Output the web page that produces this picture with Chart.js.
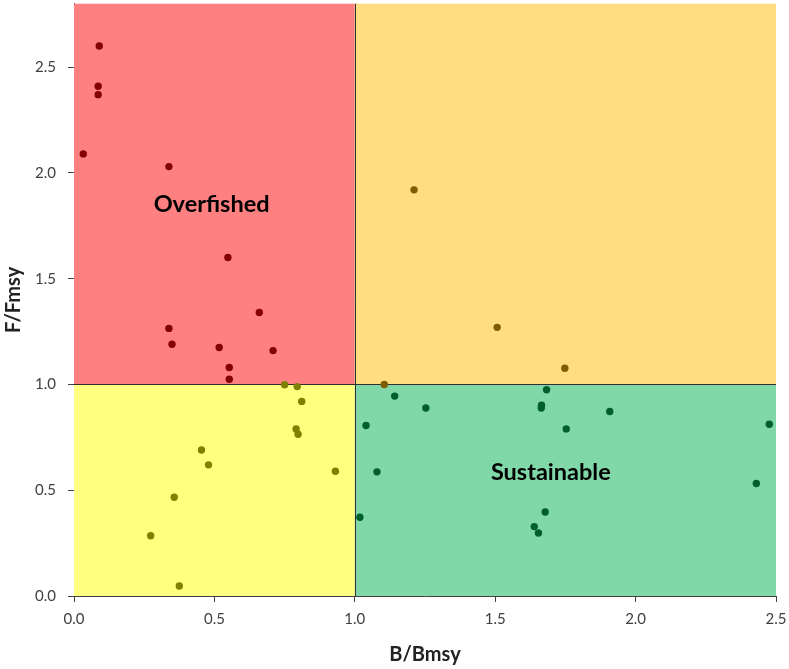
<!DOCTYPE html>
<html>
<head>
<meta charset="utf-8">
<script src="https://cdn.jsdelivr.net/npm/chart.js@4"></script>
<style>
  body { margin: 0; background: #fff; }
  canvas { display: block; }
</style>
</head>
<body>
<canvas id="kobe" width="789" height="669"></canvas>
<script>
// Stock status: biomass ratio (x) and fishing ratio (y)
const bRatio = [0.09, 0.086, 0.086, 0.033, 0.338, 0.548, 0.66, 0.338, 0.349, 0.517, 0.709, 0.553, 0.553,
    0.75, 0.795, 0.811, 0.791, 0.798, 0.454, 0.479, 0.931, 0.357, 0.273, 0.375,
    1.211, 1.507, 1.748, 1.105,
    1.142, 1.683, 1.253, 1.665, 1.664, 1.908, 1.04, 1.753, 2.476, 1.079, 2.43, 1.018, 1.678, 1.639, 1.654];
const fRatio = [2.6, 2.41, 2.37, 2.09, 2.03, 1.6, 1.34, 1.265, 1.19, 1.175, 1.16, 1.08, 1.025,
    0.999, 0.99, 0.92, 0.79, 0.765, 0.69, 0.62, 0.59, 0.467, 0.285, 0.047,
    1.92, 1.27, 1.077, 1.0,
    0.945, 0.975, 0.889, 0.902, 0.889, 0.872, 0.806, 0.79, 0.812, 0.587, 0.532, 0.372, 0.397, 0.328, 0.298];
const xTicks = [0, 0.5, 1, 1.5, 2, 2.5];
const yTicks = [0, 0.5, 1, 1.5, 2, 2.5];

const points = bRatio.map((b, i) => ({ x: b, y: fRatio[i] }));

function dotColor(p) {
    if (p.x < 1 && p.y >= 1) return '#850000';
    if (p.x < 1) return '#7f7f00';
    if (p.y >= 1) return '#7f5c00';
    return '#005f2e';
}

// quadrant fills, divider lines and zone labels
const quadrants = {
    id: 'quadrants',
    beforeDatasetsDraw(chart) {
        const { ctx, chartArea: a, scales: { x, y } } = chart;
        const mx = x.getPixelForValue(1), my = y.getPixelForValue(1);
        ctx.save();
        ctx.fillStyle = '#ff8080'; ctx.fillRect(a.left, a.top, mx - a.left, my - a.top);
        ctx.fillStyle = '#ffdd80'; ctx.fillRect(mx, a.top, a.right - mx, my - a.top);
        ctx.fillStyle = '#ffff80'; ctx.fillRect(a.left, my, mx - a.left, a.bottom - my);
        ctx.fillStyle = '#80d7a7'; ctx.fillRect(mx, my, a.right - mx, a.bottom - my);
        ctx.strokeStyle = '#303030';
        ctx.lineWidth = 1;
        ctx.beginPath();
        ctx.moveTo(Math.round(mx) + 0.5, a.top); ctx.lineTo(Math.round(mx) + 0.5, a.bottom);
        ctx.moveTo(a.left, Math.round(my) + 0.5); ctx.lineTo(a.right, Math.round(my) + 0.5);
        ctx.stroke();
        ctx.fillStyle = '#000';
        ctx.font = 'bold 23.5px Lato';
        ctx.textAlign = 'center';
        ctx.textBaseline = 'middle';
        ctx.fillText('Overfished', x.getPixelForValue(0.49), y.getPixelForValue(1.853));
        ctx.fillText('Sustainable', x.getPixelForValue(1.698), y.getPixelForValue(0.583));
        ctx.restore();
    }
};

const tickFont = { family: 'Lato', size: 15 };
const titleFont = { family: 'Lato', size: 20, weight: 'bold' };

new Chart(document.getElementById('kobe'), {
    type: 'scatter',
    data: {
        datasets: [{
            data: points,
            pointRadius: 3.7,
            pointHoverRadius: 3.7,
            borderWidth: 0,
            pointBackgroundColor: ctx => dotColor(ctx.raw || { x: 0, y: 0 })
        }]
    },
    options: {
        responsive: false,
        animation: false,
        layout: { padding: { top: 2, right: 13 } },
        plugins: { legend: { display: false }, tooltip: { enabled: false } },
        scales: {
            x: {
                min: 0, max: 2.5,
                afterBuildTicks: s => { s.ticks = xTicks.map(v => ({ value: v })); },
                afterFit: s => { s.height = 73; s.paddingLeft = 0; s.paddingRight = 0; },
                border: { color: '#404040', width: 1 },
                grid: { drawOnChartArea: false, drawTicks: true, tickLength: 6, color: '#404040' },
                ticks: { color: '#404040', font: tickFont, padding: 8, callback: v => v.toFixed(1) },
                title: { display: true, text: 'B/Bmsy', color: '#222', font: titleFont, padding: { top: 4, bottom: 2 } }
            },
            y: {
                min: 0, max: 2.8,
                afterBuildTicks: s => { s.ticks = yTicks.map(v => ({ value: v })); },
                afterFit: s => { s.width = 74; s.paddingTop = 0; s.paddingBottom = 0; },
                border: { color: '#404040', width: 1 },
                grid: { drawOnChartArea: false, drawTicks: true, tickLength: 6, color: '#404040' },
                ticks: { color: '#404040', font: tickFont, padding: 12, callback: v => v.toFixed(1) },
                title: { display: true, text: 'F/Fmsy', color: '#222', font: titleFont, padding: { top: 2, bottom: 4 } }
            }
        }
    },
    plugins: [quadrants]
});
</script>
</body>
</html>
